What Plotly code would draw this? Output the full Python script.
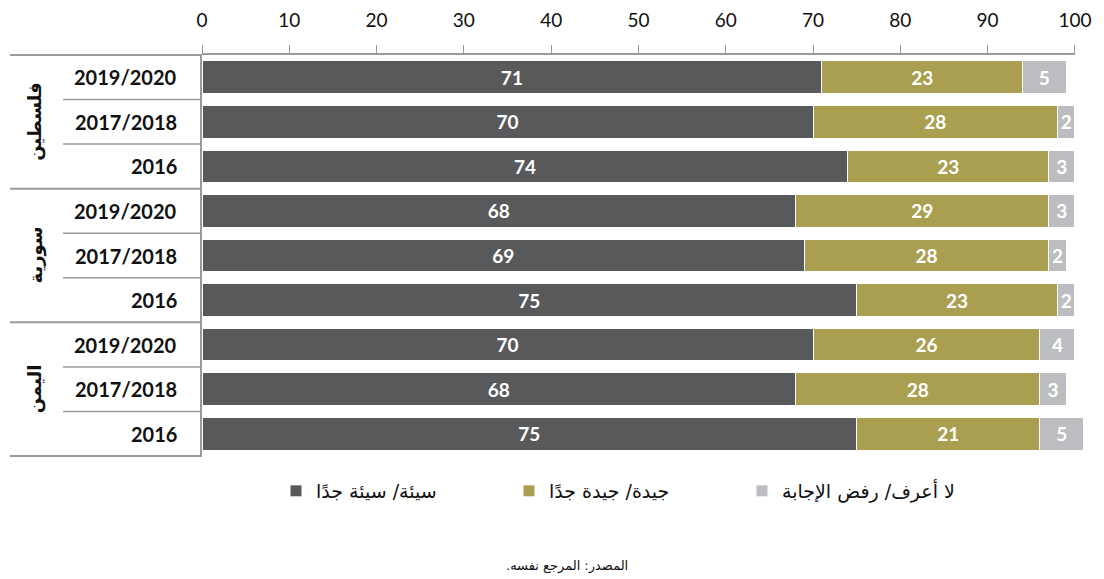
import plotly.graph_objects as go

# Survey results by country and year (percent)
countries = ["فلسطين", "سورية", "اليمن"]
years = ["2019/2020", "2017/2018", "2016"]

bad = [71, 70, 74, 68, 69, 75, 70, 68, 75]
good = [23, 28, 23, 29, 28, 23, 26, 28, 21]
dont_know = [5, 2, 3, 3, 2, 2, 4, 3, 5]

series_names = ["سيئة/ سيئة جدًا", "جيدة/ جيدة جدًا", "لا أعرف/ رفض الإجابة"]
series_colors = ["#58595B", "#AA9F50", "#BCBDC0"]

x_ticks = [0, 10, 20, 30, 40, 50, 60, 70, 80, 90, 100]
source_note = "المصدر: المرجع نفسه.\u200F"

# one category per country/year row
row_keys = [f"{c}|{y}" for c in countries for y in years]

X_MAX = 101.5          # room for rows that sum above 100
PLOT_L, PLOT_W = 202, 886


def px_to_paper(px):
    return (px - PLOT_L) / PLOT_W


fig = go.Figure()
for name, vals, col in zip(series_names, [bad, good, dont_know], series_colors):
    fig.add_trace(go.Bar(
        y=row_keys, x=vals, name=name, orientation="h",
        marker=dict(color=col, line=dict(color="white", width=1)),
        text=[str(v) for v in vals], textposition="inside",
        insidetextanchor="middle",
        textfont=dict(family="Lato", size=19, color="white", weight="bold"),
        cliponaxis=False,
    ))

line_col = "#9A9A9A"
shapes = []
annotations = []
n_rows = len(row_keys)

# top axis line, spanning 0..100 only
shapes.append(dict(
    type="line", xref="x", yref="paper", x0=0, x1=100, y0=1, y1=1,
    line=dict(color=line_col, width=2),
))

# row separators in the label column
for i in range(n_rows + 1):
    long_line = (i % 3 == 0)
    shapes.append(dict(
        type="line", xref="paper", yref="y",
        x0=px_to_paper(10) if long_line else px_to_paper(63), x1=0,
        y0=i - 0.5, y1=i - 0.5,
        line=dict(color=line_col, width=2 if long_line else 1.5),
    ))

# year labels
for i, key in enumerate(row_keys):
    annotations.append(dict(
        xref="paper", yref="y", x=px_to_paper(179), y=key,
        text=key.split("|")[1], showarrow=False, xanchor="right",
        font=dict(family="Lato", size=20, color="#111111", weight="bold"),
    ))

# country labels, rotated
for g, c in enumerate(countries):
    annotations.append(dict(
        xref="paper", yref="y", x=px_to_paper(35), y=g * 3 + 1,
        text=c, showarrow=False, textangle=-90, xanchor="center",
        font=dict(family="DejaVu Sans", size=18, color="#111111", weight="bold"),
    ))

annotations.append(dict(
    xref="paper", yref="paper", x=px_to_paper(567), y=(457 - 566) / 403,
    text=source_note, showarrow=False, xanchor="center", yanchor="middle",
    font=dict(family="DejaVu Sans", size=13, color="#111111"),
))

fig.update_layout(
    width=1104, height=579,
    margin=dict(l=PLOT_L, r=1104 - PLOT_L - PLOT_W, t=54, b=122),
    paper_bgcolor="white", plot_bgcolor="white",
    barmode="stack", bargap=0.265,
    showlegend=True,
    legend=dict(
        orientation="h", xref="container", yref="container",
        x=276 / 1104, y=1 - 491 / 579,
        xanchor="left", yanchor="middle",
        entrywidth=188, entrywidthmode="pixels", itemwidth=30,
        font=dict(family="DejaVu Sans", size=19, color="#111111"),
        traceorder="normal",
    ),
    uniformtext=dict(minsize=19, mode="show"),
    xaxis=dict(
        side="top", range=[0, X_MAX], tickvals=x_ticks,
        ticks="outside", ticklen=8, tickcolor=line_col, tickwidth=1,
        ticklabelstandoff=10, automargin=False,
        showline=False, showgrid=False, zeroline=False,
        tickfont=dict(family="Lato", size=19, color="#111111"),
    ),
    yaxis=dict(
        categoryorder="array", categoryarray=row_keys,
        autorange="reversed", showticklabels=False, automargin=False,
        showline=True, linecolor=line_col, linewidth=2,
        ticks="", showgrid=False, zeroline=False,
    ),
    shapes=shapes, annotations=annotations,
)

fig.write_html("out.html")
